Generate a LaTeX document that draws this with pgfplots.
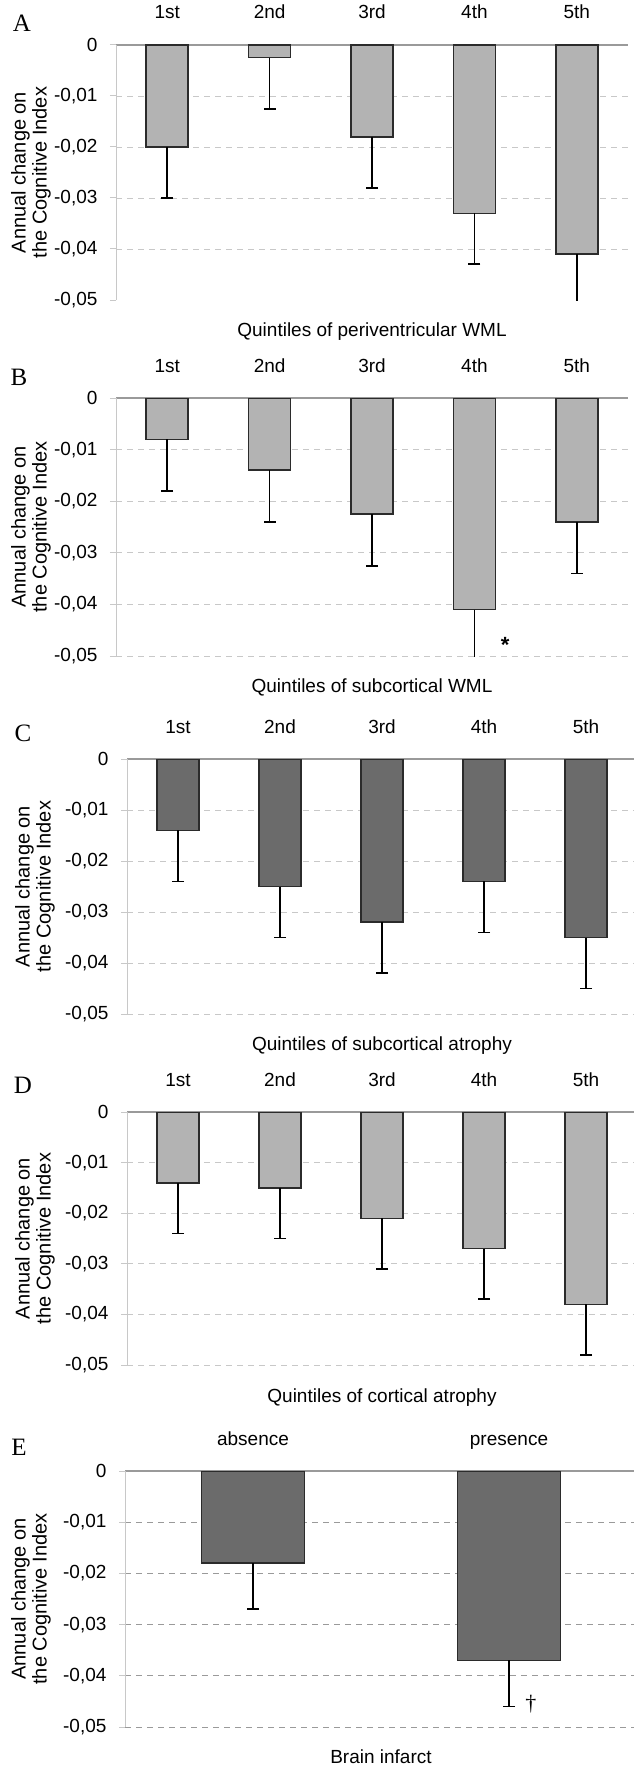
\documentclass[border=0pt]{standalone}
\usepackage{pgfplots}
\pgfplotsset{compat=1.18}
\usepackage{pgfplotstable}
\usepackage{fontspec}
\setmainfont{Liberation Sans}
\newfontfamily\seriffont{Liberation Serif}
\definecolor{lightbar}{HTML}{B3B3B3}
\definecolor{darkbar}{HTML}{6B6B6B}
\definecolor{barline}{HTML}{2B2B2B}
\definecolor{gridc}{HTML}{C8C8C8}
\definecolor{axisc}{HTML}{9A9A9A}

\pgfplotstableread{
x y e
0 -0.020 0.010
1 -0.0025 0.010
2 -0.018 0.010
3 -0.033 0.010
4 -0.041 0.010
}\dataA
\pgfplotstableread{
x y e
0 -0.008 0.010
1 -0.014 0.010
2 -0.0225 0.010
3 -0.041 0.010
4 -0.024 0.010
}\dataB
\pgfplotstableread{
x y e
0 -0.014 0.010
1 -0.025 0.010
2 -0.032 0.010
3 -0.024 0.010
4 -0.035 0.010
}\dataC
\pgfplotstableread{
x y e
0 -0.014 0.010
1 -0.015 0.010
2 -0.021 0.010
3 -0.027 0.010
4 -0.038 0.010
}\dataD
\pgfplotstableread{
x y e
0 -0.018 0.009
1 -0.037 0.009
}\dataE

\pgfplotsset{
  panel/.style={
    scale only axis, width=512pt, height=255pt, anchor=north west,
    font=\fontsize{19}{22}\selectfont,
    xmin=-0.5, xmax=4.5, ymin=-0.05, ymax=0,
    axis x line=top, axis y line=left,
    axis line style={-},
    x axis line style={draw=axisc, line width=1.2pt},
    y axis line style={draw=gridc, line width=1pt},
    xtick={0,1,2,3,4}, xticklabels={1st,2nd,3rd,4th,5th},
    xtick style={draw=none},
    xticklabel style={anchor=base, yshift=20pt},
    scaled y ticks=false,
    ytick={-0.05,-0.04,-0.03,-0.02,-0.01,0},
    yticklabels={{-0,05},{-0,04},{-0,03},{-0,02},{-0,01},0},
    ytick style={draw=gridc, line width=1pt},
    yticklabel style={xshift=-9pt},
    tick align=outside, major tick length=6pt,
    ymajorgrids,
    grid style={draw=gridc, line width=0.9pt, dash pattern=on 6pt off 5pt},
    clip=true,
  },
  bars/.style={
    ybar, fill=#1, draw=barline, line width=1.5pt,
    /pgfplots/error bars/y dir=minus, /pgfplots/error bars/y explicit,
    /pgfplots/error bars/error bar style={line width=1.6pt, black},
    /pgfplots/error bars/error mark=-,
    /pgfplots/error bars/error mark options={rotate=90, line width=1.6pt, black, mark size=6pt},
  },
}

\newcommand{\septicks}[1]{%
  \pgfplotsinvokeforeach{#1}{\draw[axisc, line width=1pt] (axis cs:##1,0) -- ++(0,-6pt);}}

\begin{document}
\begin{tikzpicture}
\path[use as bounding box] (0,0) rectangle (633pt,-1769pt);

% ---------- A ----------
\begin{axis}[panel, at={(116pt,-45pt)},
  ymajorgrids=false,
  extra y ticks={-0.04,-0.03,-0.02,-0.01}, extra y tick labels={},
  extra y tick style={grid=major, major tick length=0pt}]
  \addplot[bars=lightbar, bar width=42pt] table[x=x, y=y, y error=e] {\dataA};
  \septicks{0.5,1.5,2.5,3.5}
\end{axis}

% ---------- B ----------
\begin{axis}[panel, at={(116pt,-398pt)}, height=258pt]
  \addplot[bars=lightbar, bar width=42pt] table[x=x, y=y, y error=e] {\dataB};
  \septicks{0.5,1.5,2.5,3.5}
  \node[font=\fontsize{22}{24}\selectfont\bfseries] at (axis cs:3.3,-0.0478) {*};
\end{axis}

% ---------- C ----------
\begin{axis}[panel, at={(127pt,-759pt)}, width=510pt, height=255pt]
  \addplot[bars=darkbar, bar width=42pt] table[x=x, y=y, y error=e] {\dataC};
  \septicks{0.5,1.5,2.5,3.5}
\end{axis}

% ---------- D ----------
\begin{axis}[panel, at={(127pt,-1112pt)}, width=510pt, height=253pt]
  \addplot[bars=lightbar, bar width=42pt] table[x=x, y=y, y error=e] {\dataD};
  \septicks{0.5,1.5,2.5,3.5}
\end{axis}

% ---------- E ----------
\begin{axis}[panel, at={(125pt,-1471pt)}, width=512pt, height=256pt,
  xmin=-0.5, xmax=1.5, xtick={0,1}, xticklabels={absence,presence},
  grid style={draw=axisc, line width=0.9pt, dash pattern=on 6pt off 5pt}]
  \addplot[bars=darkbar, bar width=103pt] table[x=x, y=y, y error=e] {\dataE};
  \septicks{0.5}
  \node[font=\fontsize{22}{24}\selectfont\seriffont, anchor=west] at (axis cs:1.05,-0.0455) {†};
\end{axis}

% ---------- panel letters ----------
\foreach \l/\x/\y in {A/22/23, B/19/377, C/23/733, D/23/1085, E/19/1447}
  \node[font=\fontsize{25}{27}\selectfont\seriffont] at (\x pt,-\y pt) {\l};

% ---------- y labels ----------
\foreach \y/\x in {172.5/31, 527/31, 886.5/35, 1238.5/35, 1599/31}
  \node[rotate=90, align=center, font=\fontsize{20}{21}\selectfont] at (\x pt,-\y pt)
    {Annual change on\\the Cognitive Index};

% ---------- x labels ----------
\node[font=\fontsize{19}{21}\selectfont] at (372pt,-332pt) {Quintiles of periventricular WML};
\node[font=\fontsize{19}{21}\selectfont] at (372pt,-687pt) {Quintiles of subcortical WML};
\node[font=\fontsize{19}{21}\selectfont] at (382pt,-1046pt) {Quintiles of subcortical atrophy};
\node[font=\fontsize{19}{21}\selectfont] at (382pt,-1398pt) {Quintiles of cortical atrophy};
\node[font=\fontsize{19}{21}\selectfont] at (381pt,-1757pt) {Brain infarct};
\end{tikzpicture}
\end{document}
